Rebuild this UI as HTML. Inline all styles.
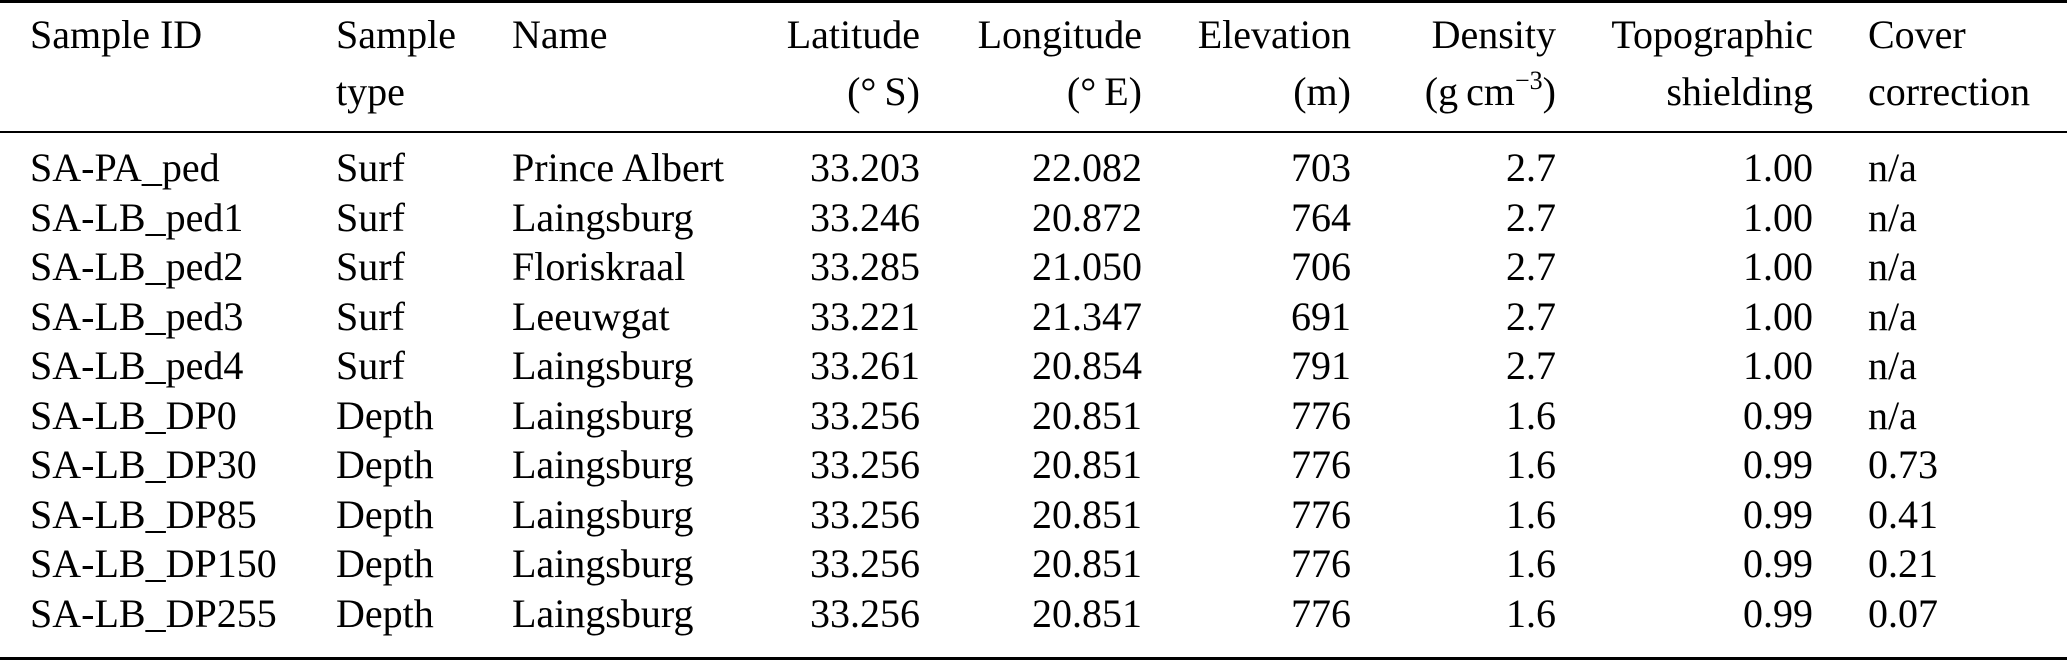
<!DOCTYPE html>
<html><head><meta charset="utf-8"><style>
body{margin:0;width:2067px;height:661px;background:#fff;position:relative;overflow:hidden;font-family:"Liberation Serif",serif;font-size:40px;color:#000}
.t{position:absolute;line-height:40px;white-space:nowrap}
.r{text-align:right}
.rule{position:absolute;left:0;width:2067px;background:#000}
sup{font-size:26px;line-height:0;position:relative;top:-2px;vertical-align:super}
</style></head><body>
<div class="rule" style="top:0;height:3px"></div>
<div class="rule" style="top:131px;height:2px"></div>
<div class="rule" style="top:657px;height:3px"></div>
<div id="c"></div>
<script>
const L=[30,336,512,null,null,null,null,null,1868];
const R=[null,null,null,920,1142,1351,1556,1813,null];
function put(txt,col,cy,html){const d=document.createElement('div');d.className='t';
 if(L[col]!=null){d.style.left=L[col]+'px';}else{d.classList.add('r');d.style.right=(2067-R[col])+'px';}
 d.style.top=(cy-20)+'px'; if(html)d.innerHTML=txt; else d.textContent=txt; document.body.appendChild(d);}
const h1=["Sample ID","Sample","Name","Latitude","Longitude","Elevation","Density","Topographic","Cover"];
const h2=["","type","","(&deg;&#8201;S)","(&deg;&#8201;E)","(m)","(g&#8201;cm<sup>&minus;3</sup>)","shielding","correction"];
h1.forEach((t,i)=>put(t,i,35));h2.forEach((t,i)=>{if(t)put(t,i,92,true)});
const rows=[
["SA-PA_ped","Surf","Prince Albert","33.203","22.082","703","2.7","1.00","n/a"],
["SA-LB_ped1","Surf","Laingsburg","33.246","20.872","764","2.7","1.00","n/a"],
["SA-LB_ped2","Surf","Floriskraal","33.285","21.050","706","2.7","1.00","n/a"],
["SA-LB_ped3","Surf","Leeuwgat","33.221","21.347","691","2.7","1.00","n/a"],
["SA-LB_ped4","Surf","Laingsburg","33.261","20.854","791","2.7","1.00","n/a"],
["SA-LB_DP0","Depth","Laingsburg","33.256","20.851","776","1.6","0.99","n/a"],
["SA-LB_DP30","Depth","Laingsburg","33.256","20.851","776","1.6","0.99","0.73"],
["SA-LB_DP85","Depth","Laingsburg","33.256","20.851","776","1.6","0.99","0.41"],
["SA-LB_DP150","Depth","Laingsburg","33.256","20.851","776","1.6","0.99","0.21"],
["SA-LB_DP255","Depth","Laingsburg","33.256","20.851","776","1.6","0.99","0.07"]];
rows.forEach((r,j)=>r.forEach((t,i)=>put(t,i,168+j*49.5)));
</script>
</body></html>
